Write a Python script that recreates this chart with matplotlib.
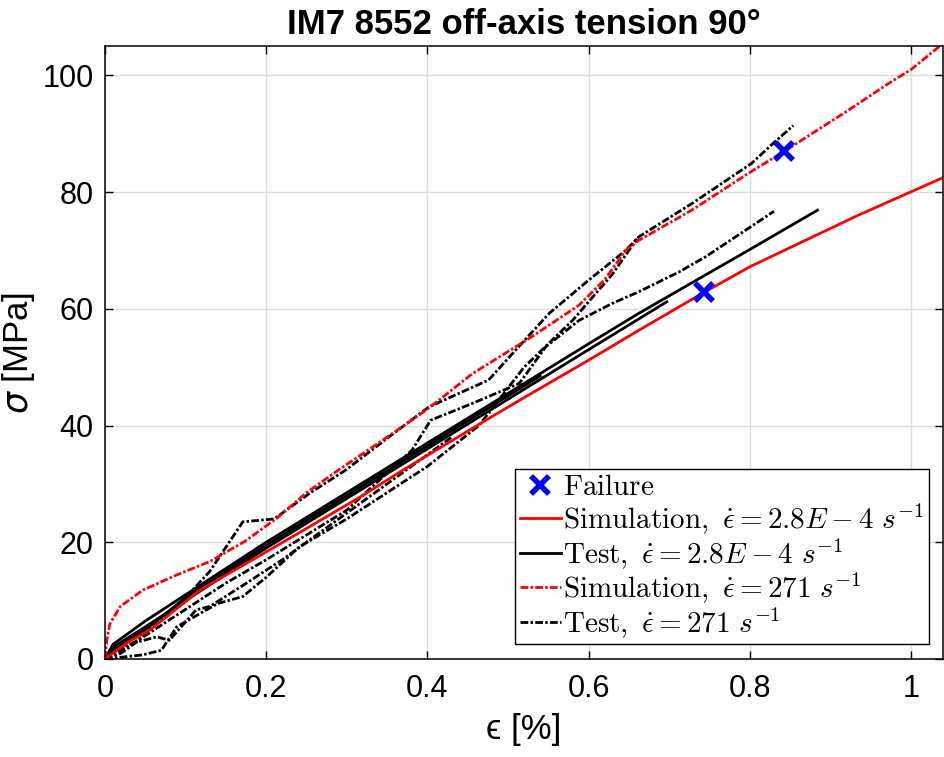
import matplotlib
matplotlib.use("Agg")
import matplotlib.pyplot as plt
from matplotlib.lines import Line2D
from matplotlib.font_manager import FontProperties

# --- data (strain in %, stress in MPa) ---
# simulation, quasi-static rate
sim_low_eps = [0, 0.03, 0.056, 0.118, 0.217, 0.316, 0.369, 0.476, 0.514, 0.6, 0.662, 0.743, 0.8, 0.934, 1.04]
sim_low_sig = [0, 3.0, 5.0, 11.8, 19.7, 27.7, 32.3, 41.2, 44.3, 51.2, 56.3, 62.8, 67.2, 76.0, 82.5]

# simulation, 271 1/s
sim_high_eps = [0, 0.002, 0.006, 0.019, 0.047, 0.089, 0.13, 0.173, 0.213, 0.25, 0.291, 0.35, 0.4, 0.456,
                0.526, 0.588, 0.62, 0.646, 0.662, 0.728, 0.798, 0.843, 0.922, 0.972, 1.0, 1.04]
sim_high_sig = [0, 3.0, 6.0, 9.0, 11.8, 14.4, 16.7, 20.1, 24.1, 28.5, 32.5, 38.0, 42.8, 48.9,
                54.9, 60.6, 65.0, 70.0, 71.7, 76.9, 83.2, 87.0, 94.0, 98.6, 101.0, 105.5]

# tests, quasi-static rate (solid)
test_low_eps = [
    [0, 0.01, 0.05, 0.1, 0.2, 0.3, 0.4, 0.5, 0.6, 0.697],
    [0, 0.01, 0.05, 0.1, 0.2, 0.3, 0.4, 0.5, 0.6, 0.662, 0.745, 0.798, 0.884],
    [0, 0.01, 0.05, 0.1, 0.2, 0.3, 0.4, 0.54],
]
test_low_sig = [
    [0, 2.0, 5.5, 10.0, 19.0, 27.5, 36.0, 44.5, 53.0, 61.2],
    [0, 2.5, 6.5, 11.0, 20.0, 28.5, 37.0, 45.5, 54.0, 59.2, 65.8, 70.0, 76.9],
    [0, 1.5, 5.0, 10.5, 19.5, 28.0, 36.5, 48.5],
]

# tests, 271 1/s (dash-dot)
test_high_eps = [
    [0, 0.02, 0.04, 0.07, 0.1, 0.13, 0.171, 0.21, 0.254, 0.299, 0.35, 0.402, 0.476, 0.51, 0.551,
     0.6, 0.646, 0.662, 0.73, 0.802, 0.831, 0.854],
    [0, 0.02, 0.05, 0.1, 0.15, 0.2, 0.3, 0.381, 0.404, 0.456, 0.514, 0.547, 0.588, 0.629, 0.662,
     0.712, 0.745, 0.83],
    [0, 0.02, 0.047, 0.07, 0.089, 0.118, 0.14, 0.171, 0.2, 0.241, 0.3, 0.35, 0.4, 0.464, 0.52,
     0.58, 0.63, 0.66],
    [0, 0.01, 0.03, 0.064, 0.08, 0.113, 0.13, 0.17, 0.22, 0.28, 0.33, 0.38, 0.43],
]
test_high_sig = [
    [0, 1.0, 3.0, 7.0, 10.5, 15.0, 23.5, 24.0, 28.4, 32.4, 37.8, 43.2, 47.8, 53.0, 59.2,
     64.9, 70.0, 72.3, 78.2, 84.9, 88.6, 91.4],
    [0, 1.5, 4.0, 8.5, 13.0, 17.0, 25.5, 35.8, 40.9, 43.8, 47.2, 53.5, 58.0, 60.9, 62.9,
     66.3, 68.9, 76.7],
    [0, 0.3, 0.7, 1.5, 5.5, 7.8, 9.5, 10.7, 14.0, 19.2, 24.0, 28.5, 33.0, 40.0, 50.0,
     58.0, 66.0, 72.0],
    [0, 1.5, 2.5, 3.8, 3.2, 8.4, 9.0, 12.5, 17.0, 23.0, 28.0, 33.0, 38.0],
]

# failure points
fail_eps = [0.743, 0.843]
fail_sig = [62.8, 87.0]

fig = plt.figure(figsize=(9.44, 7.57), dpi=100)
ax = fig.add_axes([0.1112, 0.1295, 0.888, 0.8095])

lw = 2.0
dashdot = (0, (2.8, 0.8, 0.9, 0.8))
for e, s in zip(test_high_eps, test_high_sig):
    ax.plot(e, s, color='black', linestyle=dashdot, linewidth=lw)
for e, s in zip(test_low_eps, test_low_sig):
    ax.plot(e, s, color='black', linestyle='-', linewidth=lw)
ax.plot(sim_low_eps, sim_low_sig, color='red', linestyle='-', linewidth=lw)
ax.plot(sim_high_eps, sim_high_sig, color='red', linestyle=dashdot, linewidth=lw)
ax.plot(fail_eps, fail_sig, linestyle='none', marker='x', color='blue', markersize=13, markeredgewidth=4)

ax.set_xlim(0, 1.04)
ax.set_ylim(0, 105)
ax.set_xticks([0, 0.2, 0.4, 0.6, 0.8, 1])
ax.set_xticklabels(['0', '0.2', '0.4', '0.6', '0.8', '1'])
ax.set_yticks([0, 20, 40, 60, 80, 100])

sans = ['Liberation Sans', 'DejaVu Sans']
for lab in ax.get_xticklabels() + ax.get_yticklabels():
    lab.set_family(sans)
    lab.set_fontsize(22)

ax.tick_params(direction='in', length=6, width=1, top=True, right=True)
ax.tick_params(axis='x', pad=11)
ax.tick_params(axis='y', pad=8)
ax.grid(True, color='#dcdcdc', linewidth=1.0)
ax.set_axisbelow(True)
for sp in ax.spines.values():
    sp.set_linewidth(1.1)

ax.set_title('IM7 8552 off-axis tension 90°', fontsize=25, fontweight='bold',
             family=sans, pad=9)
ax.set_xlabel('ϵ [%]', fontsize=25, family=sans, labelpad=6)
ax.set_ylabel(r'$\sigma$ [MPa]', fontsize=25, family=sans, labelpad=4)

# legend in Computer Modern, like the LaTeX interpreter
handles = [
    Line2D([], [], linestyle='none', marker='x', color='blue', markersize=13, markeredgewidth=4),
    Line2D([], [], color='red', linestyle='-', linewidth=lw),
    Line2D([], [], color='black', linestyle='-', linewidth=lw),
    Line2D([], [], color='red', linestyle=dashdot, linewidth=lw),
    Line2D([], [], color='black', linestyle=dashdot, linewidth=lw),
]
labels = [
    r'$\mathrm{Failure}$',
    r'$\mathrm{Simulation,}\ \dot{\epsilon} = 2.8E - 4\ s^{-1}$',
    r'$\mathrm{Test,}\ \dot{\epsilon} = 2.8E - 4\ s^{-1}$',
    r'$\mathrm{Simulation,}\ \dot{\epsilon} = 271\ s^{-1}$',
    r'$\mathrm{Test,}\ \dot{\epsilon} = 271\ s^{-1}$',
]
leg_prop = FontProperties(family='DejaVu Serif', size=21, math_fontfamily='cm')
leg = ax.legend(handles, labels, loc='lower right', prop=leg_prop, handlelength=1.4,
                handletextpad=0.1, labelspacing=0.0, borderpad=0.15,
                borderaxespad=0.5, fancybox=False, framealpha=1, edgecolor='black')
leg.get_frame().set_linewidth(1.0)

fig.savefig('out.png', dpi=100)
